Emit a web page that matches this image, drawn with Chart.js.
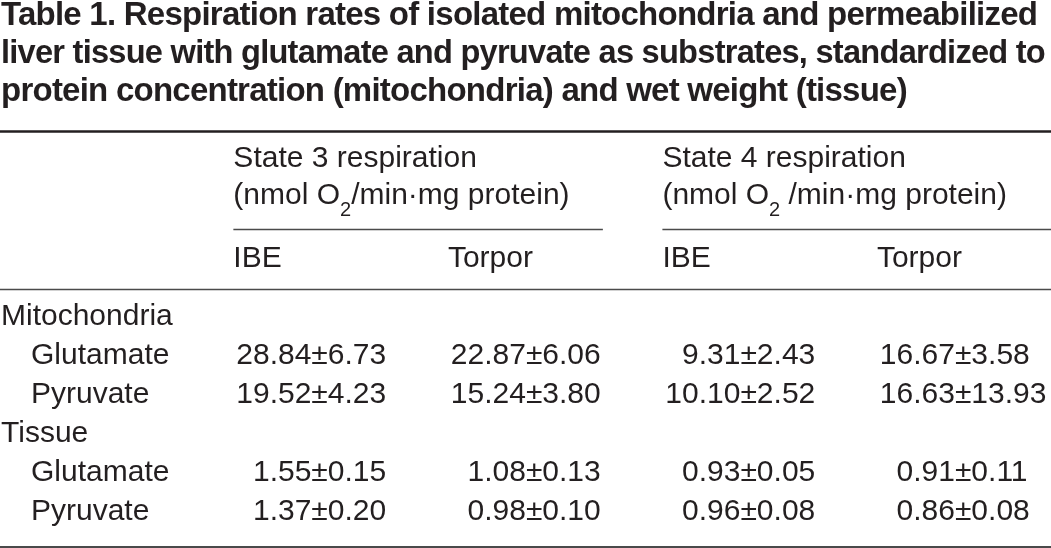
<!DOCTYPE html>
<html>
<head>
<meta charset="utf-8">
<title>Table 1. Respiration rates</title>
<script src="https://cdn.jsdelivr.net/npm/chart.js@4.4.1/dist/chart.umd.min.js"></script>
<style>
  html, body { margin: 0; padding: 0; background: #fff; }
  #wrap { width: 1051px; height: 548px; }
</style>
</head>
<body>
<div id="wrap"><canvas id="respirationTable" width="1051" height="548"></canvas></div>
<script>
// table content
const titleLines = [
  'Table 1. Respiration rates of isolated mitochondria and permeabilized',
  'liver tissue with glutamate and pyruvate as substrates, standardized to',
  'protein concentration (mitochondria) and wet weight (tissue)'
];
const groupTitles = ['State 3 respiration', 'State 4 respiration'];
// units split so the "2" can be drawn as a subscript
const groupUnits = [
  ['(nmol O', '2', '/min\u00b7mg protein)'],
  ['(nmol O', '2', ' /min\u00b7mg protein)']
];
const columns = ['IBE', 'Torpor', 'IBE', 'Torpor'];
const rowLabels = ['Mitochondria', 'Glutamate', 'Pyruvate', 'Tissue', 'Glutamate', 'Pyruvate'];

const state3IbeMean = [null, 28.84, 19.52, null, 1.55, 1.37];
const state3IbeSd = [null, 6.73, 4.23, null, 0.15, 0.20];
const state3TorporMean = [null, 22.87, 15.24, null, 1.08, 0.98];
const state3TorporSd = [null, 6.06, 3.80, null, 0.13, 0.10];
const state4IbeMean = [null, 9.31, 10.10, null, 0.93, 0.96];
const state4IbeSd = [null, 2.43, 2.52, null, 0.05, 0.08];
const state4TorporMean = [null, 16.67, 16.63, null, 0.91, 0.86];
const state4TorporSd = [null, 3.58, 13.93, null, 0.11, 0.08];

const allMeans = [state3IbeMean, state3TorporMean, state4IbeMean, state4TorporMean];
const allSds = [state3IbeSd, state3TorporSd, state4IbeSd, state4TorporSd];
// a row with no numbers is a section heading (Mitochondria, Tissue)
const isGroupRow = rowLabels.map((_, i) => allMeans.every(m => m[i] === null));

const ink = '#231f20';
const ruleInk = '#4a4a4a';
const family = '"Liberation Sans", Arial, Helvetica, sans-serif';
const bodyFont = '30px ' + family;
const subFont = '20px ' + family;
const headOffset = 78; // header text starts this far left of the ± anchor
const titleTracking = '-0.76px';

function hline(ctx, x1, x2, y, w, color) {
  ctx.beginPath();
  ctx.lineWidth = w;
  ctx.strokeStyle = color;
  ctx.moveTo(x1, y);
  ctx.lineTo(x2, y);
  ctx.stroke();
}

// draws headers, rules and the mean±sd cells at the points placed by the scales
const tableDecor = {
  id: 'tableDecor',
  beforeDraw(chart) {
    // the title is set a little tighter than the body text
    chart.ctx.letterSpacing = titleTracking;
  },
  beforeDatasetsDraw(chart) {
    chart.ctx.letterSpacing = '0px';
  },
  afterDatasetsDraw(chart) {
    const ctx = chart.ctx;
    const area = chart.chartArea;
    const xs = chart.scales.x;
    const W = chart.width;
    ctx.save();

    hline(ctx, 0, W, area.top - 166, 2.5, ink);
    hline(ctx, 0, W, area.top - 8, 1.5, ruleInk);
    hline(ctx, 0, W, area.bottom + 15.5, 2, ruleInk);

    ctx.fillStyle = ink;
    ctx.textBaseline = 'alphabetic';
    ctx.textAlign = 'left';
    groupTitles.forEach((t, g) => {
      const left = xs.getPixelForValue(g * 2) - headOffset;
      const right = g < groupTitles.length - 1 ? xs.getPixelForValue(g * 2 + 1) + 77 : W;
      ctx.font = bodyFont;
      ctx.fillText(t, left, area.top - 130.5);

      const parts = groupUnits[g];
      const yU = area.top - 93.5;
      let cx = left;
      ctx.fillText(parts[0], cx, yU);
      cx += ctx.measureText(parts[0]).width;
      ctx.font = subFont;
      ctx.fillText(parts[1], cx, yU + 12);
      cx += ctx.measureText(parts[1]).width;
      ctx.font = bodyFont;
      ctx.fillText(parts[2], cx, yU);

      hline(ctx, left, right, area.top - 68, 1.5, ruleInk);
    });

    ctx.font = bodyFont;
    columns.forEach((c, i) => {
      ctx.fillText(c, xs.getPixelForValue(i) - headOffset, area.top - 30.5);
    });

    ctx.textBaseline = 'middle';
    chart.data.datasets.forEach((ds, d) => {
      chart.getDatasetMeta(d).data.forEach((pt, i) => {
        if (ds.means[i] === null) return;
        ctx.textAlign = 'right';
        ctx.fillText(ds.means[i].toFixed(2), pt.x, pt.y);
        ctx.textAlign = 'left';
        ctx.fillText('\u00b1' + ds.sds[i].toFixed(2), pt.x, pt.y);
      });
    });
    ctx.restore();
  }
};

const ctx = document.getElementById('respirationTable').getContext('2d');

new Chart(ctx, {
  type: 'scatter',
  data: {
    datasets: columns.map((c, ci) => ({
      label: groupTitles[Math.floor(ci / 2)] + ' ' + c,
      data: rowLabels.map((_, ri) => ({ x: ci, y: ri })),
      means: allMeans[ci],
      sds: allSds[ci],
      pointRadius: 0,
      pointHoverRadius: 0
    }))
  },
  options: {
    responsive: false,
    animation: false,
    events: [],
    layout: { padding: { left: 1, right: 6, top: -3, bottom: 16.5 } },
    plugins: {
      legend: { display: false },
      tooltip: { enabled: false },
      title: {
        display: true,
        text: titleLines,
        align: 'start',
        color: ink,
        font: { family: family, size: 33, weight: 'bold', lineHeight: '38px' },
        padding: { top: 0, bottom: 186.5 }
      }
    },
    scales: {
      x: {
        type: 'linear',
        min: -0.37,
        max: 3.42,
        display: false
      },
      y: {
        type: 'category',
        labels: rowLabels,
        offset: true,
        position: 'left',
        grid: { display: false },
        border: { display: false },
        ticks: {
          z: 1,
          crossAlign: 'far',
          autoSkip: false,
          color: ink,
          font: { family: family, size: 30 },
          callback: (v, i) => (isGroupRow[i] ? '' : '\u2003') + rowLabels[i]
        },
        afterFit: (scale) => {
          scale.width = 231;
          scale.paddingTop = 0;
          scale.paddingBottom = 0;
        }
      }
    }
  },
  plugins: [tableDecor]
});
</script>
</body>
</html>
